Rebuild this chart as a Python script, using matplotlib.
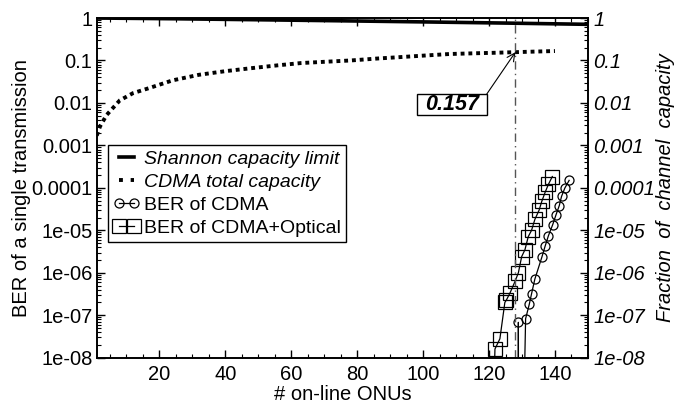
import matplotlib
matplotlib.use('Agg')
import matplotlib.pyplot as plt
from matplotlib.ticker import FixedLocator, LogLocator, NullFormatter, MultipleLocator
from matplotlib.lines import Line2D
from matplotlib.patches import Rectangle

plt.rcParams['font.family'] = ['Liberation Sans', 'DejaVu Sans']

# ---- data ----
shannon_x = [1, 25, 50, 75, 100, 125, 150]
shannon_y = [1.0, 0.96, 0.91, 0.86, 0.81, 0.76, 0.71]

cdma_x = [1, 2, 4, 8, 12, 17, 24, 32, 40, 48, 56, 63, 70, 78, 86, 93, 100, 108, 116, 122, 128, 134, 140]
cdma_y = [0.0017, 0.0028, 0.0052, 0.0115, 0.017, 0.0225, 0.034, 0.046, 0.056, 0.066, 0.077, 0.087,
          0.093, 0.100, 0.111, 0.12, 0.13, 0.142, 0.148, 0.152, 0.157, 0.162, 0.167]

# BER of CDMA (values below 1e-8 are off-chart drops)
ber_x = [128.8, 128.9, 129.0, 130.6, 131.1, 132.2, 132.9, 133.9, 136.0, 137.0, 138.0, 139.3, 140.3,
         141.3, 142.0, 143.0, 144.3]
ber_y = [1e-12, 6.8e-8, 1e-12, 1e-9, 8.3e-8, 1.8e-7, 3.2e-7, 7.1e-7, 2.3e-6, 4.2e-6, 7.4e-6, 1.35e-5,
         2.3e-5, 3.8e-5, 6.3e-5, 9.9e-5, 1.5e-4]

# BER of CDMA+Optical
bero_x = [121.0, 121.8, 123.3, 124.8, 125.3, 126.4, 127.9, 128.9, 129.9, 130.9, 131.9, 132.9, 133.9,
          135.2, 136.0, 137.0, 138.0, 139.2]
bero_y = [1e-10, 1.6e-8, 2.8e-8, 2.0e-7, 2.3e-7, 3.4e-7, 6.3e-7, 1.0e-6, 2.4e-6, 3.5e-6, 7.1e-6, 1.0e-5,
          1.8e-5, 3.0e-5, 4.8e-5, 7.8e-5, 1.2e-4, 1.85e-4]

marker_point = 128
marker_value = 0.157

ytick_vals = [1e-8, 1e-7, 1e-6, 1e-5, 1e-4, 1e-3, 1e-2, 1e-1, 1]
ytick_labels = ['1e-08', '1e-07', '1e-06', '1e-05', '0.0001', '0.001', '0.01', '0.1', '1']

FS = 14.5
LFS = 14

fig = plt.figure(figsize=(6.75, 4.03), dpi=100)
ax = fig.add_axes([0.1433, 0.1124, 0.7277, 0.8429])
ax.set_yscale('log')
ax.set_xlim(1, 150)
ax.set_ylim(1e-8, 1)

ax.plot(shannon_x, shannon_y, color='black', lw=2.6, solid_capstyle='butt')
ax.plot(cdma_x, cdma_y, color='black', lw=2.8, linestyle=(0, (1, 1)))

ax.plot(ber_x, ber_y, color='black', lw=0.9)
real_b = [(x, y) for x, y in zip(ber_x, ber_y) if y >= 1e-8]
ax.plot([p[0] for p in real_b], [p[1] for p in real_b], linestyle='none', marker='o', ms=6.5,
        mfc='none', mec='black', mew=0.9)

ax.plot(bero_x, bero_y, color='black', lw=0.9)
real_o = [(x, y) for x, y in zip(bero_x, bero_y) if y >= 1e-8]
ax.plot([p[0] for p in real_o], [p[1] for p in real_o], linestyle='none', marker='s', ms=9.5,
        mfc='none', mec='black', mew=0.9)

ax.axvline(marker_point, color='#555555', lw=1.0, linestyle=(0, (6, 3, 1, 3)))

# annotation box
ax.add_patch(Rectangle((0.652, 0.7145), 0.142, 0.0615, transform=ax.transAxes,
                       fc='white', ec='black', lw=1.0, zorder=5))
ax.text(0.723, 0.745, f'{marker_value:.3f}', transform=ax.transAxes, ha='center', va='center',
        fontsize=15.5, fontweight='bold', fontstyle='italic', zorder=6)
ax.annotate('', xy=(marker_point, marker_value), xycoords='data',
            xytext=(0.794, 0.776), textcoords='axes fraction',
            arrowprops=dict(arrowstyle='->', color='black', lw=0.8, shrinkA=0, shrinkB=0,
                            mutation_scale=14), zorder=6)

# ticks
ax.xaxis.set_major_locator(MultipleLocator(20))
ax.xaxis.set_minor_locator(MultipleLocator(5))
ax.yaxis.set_major_locator(FixedLocator(ytick_vals))
ax.set_yticklabels(ytick_labels)
ax.yaxis.set_minor_locator(LogLocator(base=10, subs=range(2, 10), numticks=20))
ax.yaxis.set_minor_formatter(NullFormatter())
ax.tick_params(which='both', direction='in', top=True, right=False, labelsize=FS)
ax.tick_params(which='major', length=6, width=1)
ax.tick_params(which='minor', length=3, width=0.8)
ax.tick_params(axis='y', pad=3)
ax.tick_params(axis='x', pad=5)
for s in ax.spines.values():
    s.set_linewidth(1.2)

ax2 = ax.twinx()
ax2.set_yscale('log')
ax2.set_ylim(1e-8, 1)
ax2.yaxis.set_major_locator(FixedLocator(ytick_vals))
ax2.set_yticklabels(ytick_labels, fontstyle='italic')
ax2.yaxis.set_minor_locator(LogLocator(base=10, subs=range(2, 10), numticks=20))
ax2.yaxis.set_minor_formatter(NullFormatter())
ax2.tick_params(which='both', direction='in', labelsize=FS, pad=4)
ax2.tick_params(which='major', length=6, width=1)
ax2.tick_params(which='minor', length=3, width=0.8)
for s in ax2.spines.values():
    s.set_linewidth(1.2)

ax.set_xlabel('# on-line ONUs', fontsize=FS, labelpad=1)
ax.set_ylabel('BER of a single transmission', fontsize=FS)
ax.yaxis.set_label_coords(-0.153, 0.5)
ax.yaxis.label.set_va('center')
ax2.set_ylabel('Fraction  of  channel  capacity', fontsize=FS, fontstyle='italic')
ax2.yaxis.set_label_coords(1.157, 0.5)
ax2.yaxis.label.set_va('center')

handles = [
    Line2D([], [], color='black', lw=2.6),
    Line2D([], [], color='black', lw=2.8, linestyle=(0, (1, 2))),
    Line2D([], [], color='black', lw=0.9, marker='o', ms=6.5, mfc='none', mew=0.9),
    Line2D([], [], color='black', lw=0.9, marker='s', ms=9.5, mfc='none', mew=0.9),
]
labels = ['Shannon capacity limit', 'CDMA total capacity', 'BER of CDMA', 'BER of CDMA+Optical']
leg = ax2.legend(handles, labels, loc='upper left', bbox_to_anchor=(0.023, 0.626), borderaxespad=0,
                 numpoints=2, handlelength=1.4, handletextpad=0.2, labelspacing=0.28, borderpad=0.25,
                 fancybox=False, edgecolor='black', framealpha=1, fontsize=LFS)
leg.get_frame().set_linewidth(1.0)
for t in leg.get_texts()[:2]:
    t.set_fontstyle('italic')

fig.savefig('out.png', dpi=100)
